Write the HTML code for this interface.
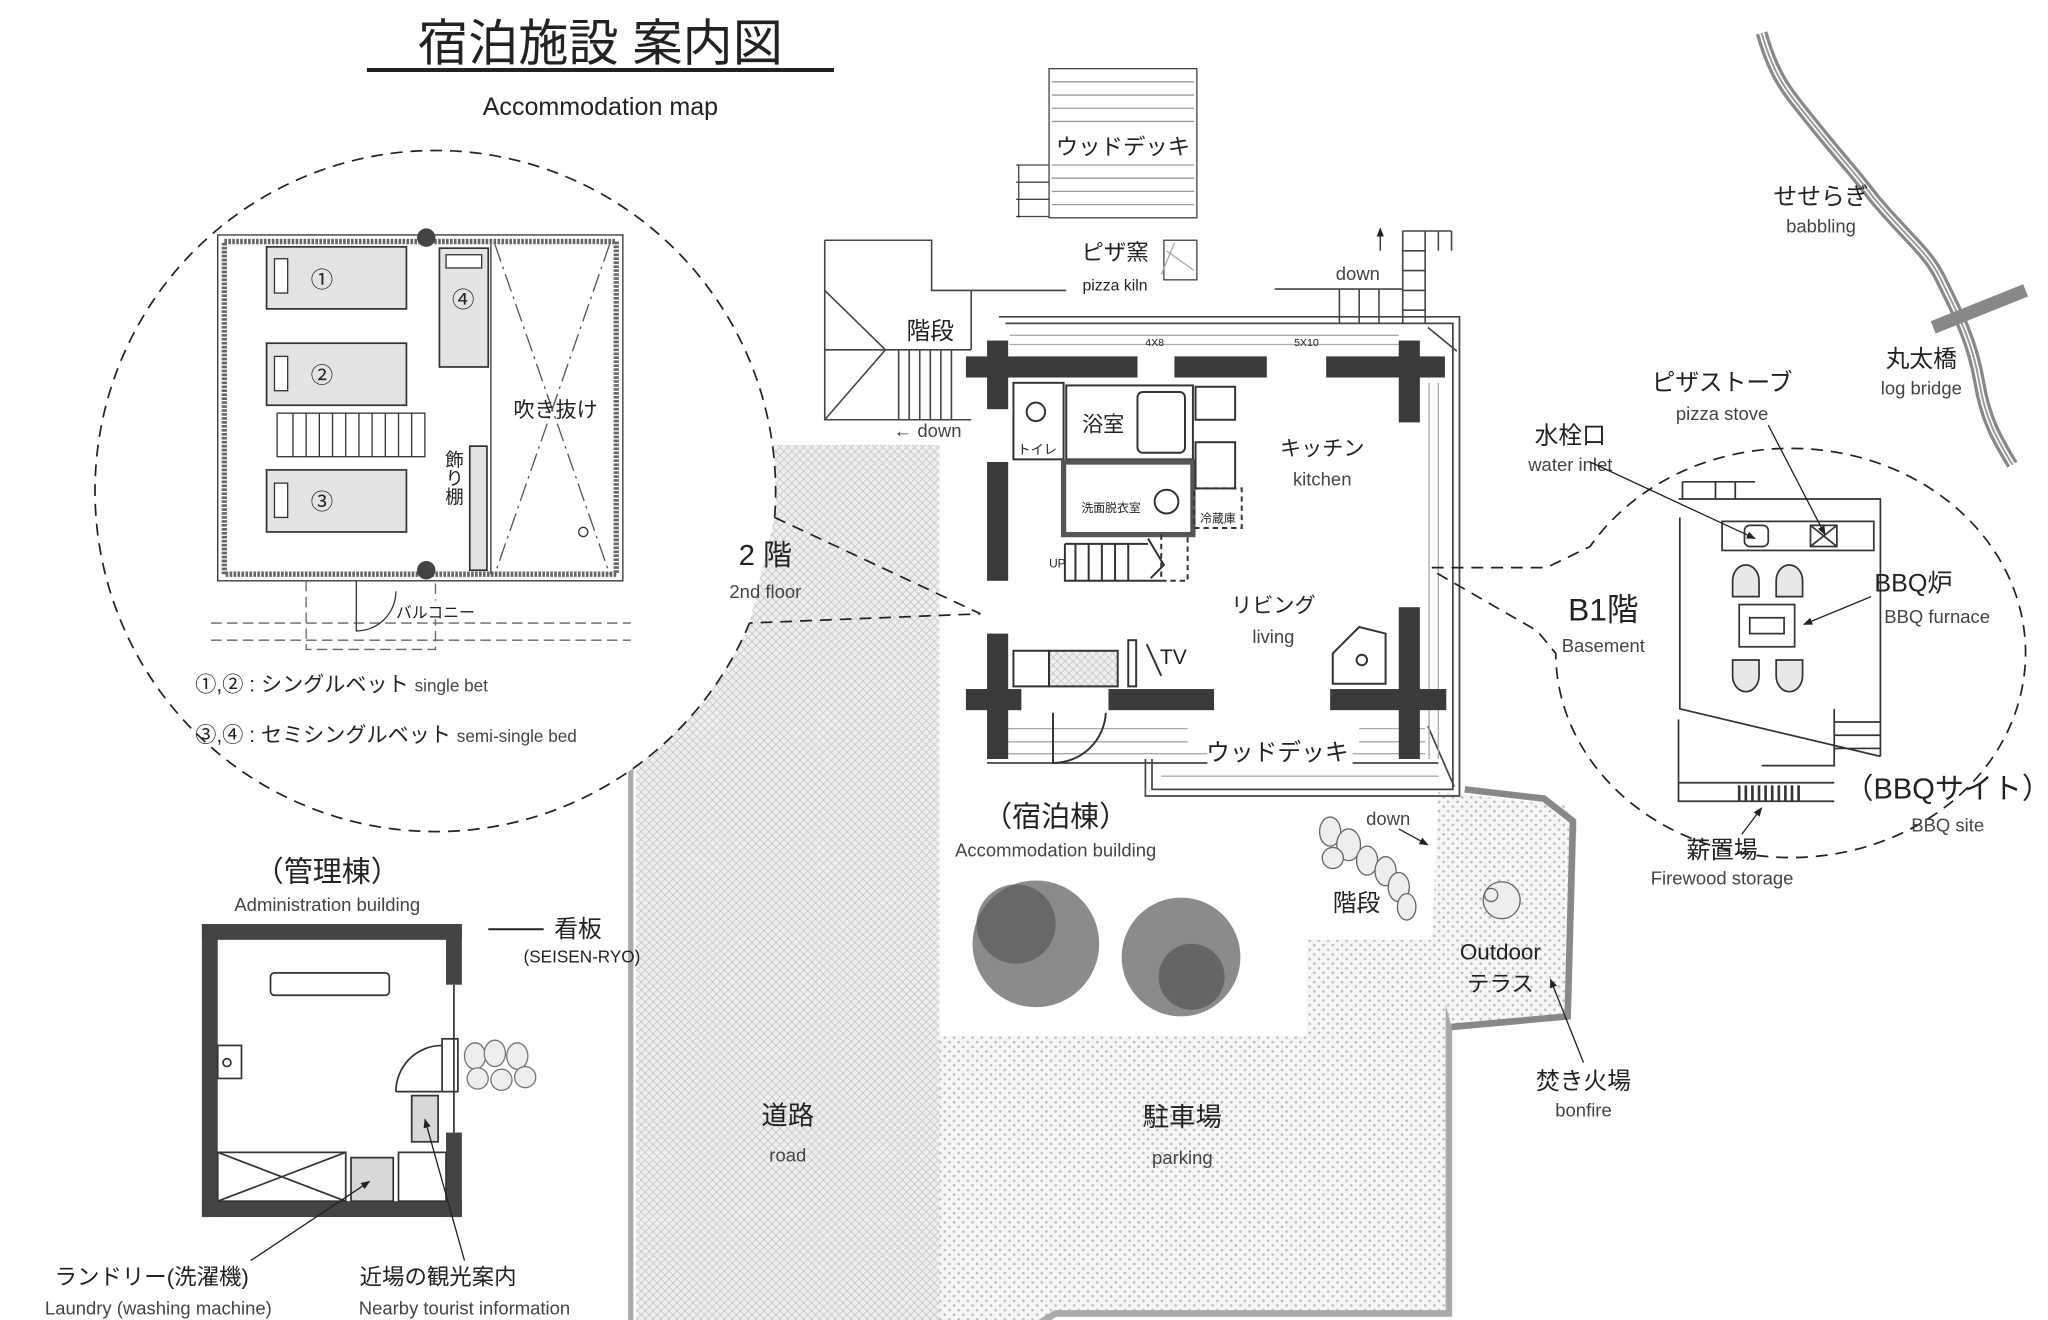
<!DOCTYPE html>
<html><head><meta charset="utf-8"><style>
html,body{margin:0;padding:0;background:#fff;}
svg{display:block;}
text{font-family:"Liberation Sans","Noto Sans CJK JP",sans-serif;fill:#222;}
.j{font-size:20px;}
.e{font-size:14px;fill:#444;}
</style></head><body>
<svg width="2048" height="1320" viewBox="0 0 1552 1000" preserveAspectRatio="none" xmlns="http://www.w3.org/2000/svg">
<defs>
<pattern id="hatch" width="6" height="6" patternUnits="userSpaceOnUse">
<rect width="6" height="6" fill="#f1f1f1"/><path d="M0 0L6 6M6 0L0 6" stroke="#c8c8c8" stroke-width="0.7"/></pattern>
<pattern id="dots" width="7" height="7" patternUnits="userSpaceOnUse">
<rect width="7" height="7" fill="#f6f6f6"/><circle cx="2" cy="2" r="1" fill="#bbb"/><circle cx="5.5" cy="5.5" r="1" fill="#bbb"/></pattern>
<marker id="ar" viewBox="0 0 10 10" refX="9" refY="5" markerWidth="7" markerHeight="7" orient="auto"><path d="M0 1L10 5L0 9z" fill="#222"/></marker>
</defs>

<!-- title -->
<text x="455" y="46" text-anchor="middle" style="font-size:38px">宿泊施設 案内図</text>
<line x1="278" y1="53" x2="632" y2="53" stroke="#222" stroke-width="3"/>
<text x="455" y="87" text-anchor="middle" style="font-size:19px">Accommodation map</text>

<!-- road -->
<polygon points="558,337 712,337 712,1010 482,1010 482,580 558,470" fill="url(#hatch)"/>
<line x1="478" y1="575" x2="478" y2="1010" stroke="#aaa" stroke-width="4"/>
<text x="597" y="852" text-anchor="middle" class="j">道路</text>
<text x="597" y="880" text-anchor="middle" class="e">road</text>

<!-- parking -->
<polygon points="712,785 990,785 990,712 1098,712 1098,995 800,995 775,1010 712,1010" fill="url(#dots)"/>
<polyline points="1098,712 1098,995 800,995 775,1010" fill="none" stroke="#aaa" stroke-width="5"/>
<circle cx="785" cy="715" r="48" fill="#777" opacity="0.85"/>
<circle cx="770" cy="700" r="30" fill="#5a5a5a" opacity="0.7"/>
<circle cx="895" cy="725" r="45" fill="#777" opacity="0.85"/>
<circle cx="903" cy="740" r="25" fill="#555" opacity="0.7"/>
<text x="896" y="853" text-anchor="middle" class="j">駐車場</text>
<text x="896" y="882" text-anchor="middle" class="e">parking</text>

<!-- terrace -->
<polygon points="1090,600 1185,610 1195,625 1190,770 1100,778 1085,720" fill="url(#dots)"/>
<path d="M1110,598 L1170,605 L1192,622 L1188,770 L1100,778" fill="none" stroke="#888" stroke-width="5"/>
<g fill="#eee" stroke="#666" stroke-width="1">
<circle cx="1138" cy="682" r="14"/><circle cx="1130" cy="678" r="5"/>
<ellipse cx="1008" cy="630" rx="8" ry="11"/><ellipse cx="1022" cy="640" rx="9" ry="12"/><ellipse cx="1010" cy="650" rx="8" ry="8"/>
<ellipse cx="1036" cy="652" rx="8" ry="11"/><ellipse cx="1050" cy="660" rx="8" ry="11"/><ellipse cx="1060" cy="672" rx="8" ry="11"/><ellipse cx="1066" cy="687" rx="7" ry="10"/></g>
<text x="1052" y="625" text-anchor="middle" class="e">down</text>
<line x1="1060" y1="628" x2="1082" y2="640" stroke="#222" marker-end="url(#ar)"/>
<text x="1028" y="690" text-anchor="middle" style="font-size:18px">階段</text>
<text x="1137" y="727" text-anchor="middle" style="font-size:17px">Outdoor</text>
<text x="1137" y="751" text-anchor="middle" style="font-size:17px">テラス</text>
<line x1="1200" y1="805" x2="1175" y2="742" stroke="#222" marker-end="url(#ar)"/>
<text x="1200" y="825" text-anchor="middle" style="font-size:18px">焚き火場</text>
<text x="1200" y="846" text-anchor="middle" class="e">bonfire</text>

<!-- top deck -->
<rect x="795" y="52" width="112" height="113" fill="#fff" stroke="#444"/>
<g stroke="#999" stroke-width="1">
<line x1="797" y1="62" x2="905" y2="62"/><line x1="797" y1="72" x2="905" y2="72"/><line x1="797" y1="82" x2="905" y2="82"/><line x1="797" y1="92" x2="905" y2="92"/>
<line x1="797" y1="125" x2="905" y2="125"/><line x1="797" y1="135" x2="905" y2="135"/><line x1="797" y1="145" x2="905" y2="145"/><line x1="797" y1="155" x2="905" y2="155"/></g>
<rect x="805" y="97" width="92" height="24" fill="#fff"/>
<text x="851" y="117" text-anchor="middle" style="font-size:17px">ウッドデッキ</text>
<g stroke="#444" fill="none"><path d="M770,125 H795 M770,138 H795 M770,151 H795 M770,164 H795 M772,125 V165"/></g>
<text x="845" y="197" text-anchor="middle" style="font-size:17px">ピザ窯</text>
<text x="845" y="220" text-anchor="middle" style="font-size:12px">pizza kiln</text>
<rect x="882" y="182" width="25" height="30" fill="#fff" stroke="#444"/>
<path d="M884,190 L905,205 M890,184 L880,208" stroke="#aaa"/>

<!-- left staircase -->
<g stroke="#444" fill="none" stroke-width="1.2">
<path d="M625,182 H706 V220 H808"/>
<path d="M625,182 V318 H736"/>
<path d="M625,220 L671,265 L625,318 M625,265 H736 M736,220 V265"/>
<path d="M681,265 V318 M689,265 V318 M697,265 V318 M705,265 V318 M713,265 V318 M721,265 V318"/></g>
<text x="705" y="257" text-anchor="middle" style="font-size:18px">階段</text>
<text x="703" y="331" text-anchor="middle" class="e">← down</text>

<!-- right down stairs -->
<g stroke="#444" fill="none" stroke-width="1.2">
<path d="M966,219 H1063 M1063,175 H1100 M1063,175 V245 M1080,175 V245 M1063,190 H1080 M1063,205 H1080 M1063,220 H1080 M1063,235 H1080 M1090,175 V190 M1100,175 V190 M1045,219 V245 M1030,219 V245 M1015,219 V245"/></g>
<line x1="1046" y1="190" x2="1046" y2="173" stroke="#222" marker-end="url(#ar)"/>
<text x="1029" y="212" text-anchor="middle" class="e">down</text>

<!-- accommodation building -->
<g fill="none" stroke="#444" stroke-width="1.3">
<path d="M757,240 H1106 V603 H868 V575"/>
<path d="M762,245 H1101 V598 H873 V575"/>
<path d="M748,578 H1090"/>
<path d="M1082,248 L1104,266 M1082,550 L1102,596"/></g>
<g stroke="#aaa"><line x1="765" y1="254" x2="1060" y2="254"/><line x1="765" y1="261" x2="1060" y2="261"/>
<line x1="1083" y1="290" x2="1083" y2="575"/><line x1="1090" y1="290" x2="1090" y2="575"/>
<line x1="750" y1="552" x2="900" y2="552"/><line x1="750" y1="562" x2="900" y2="562"/><line x1="1030" y1="552" x2="1080" y2="552"/><line x1="1030" y1="562" x2="1080" y2="562"/><line x1="750" y1="571" x2="1080" y2="571"/><line x1="880" y1="588" x2="1090" y2="588"/></g>
<g fill="#3a3a3a">
<rect x="732" y="270" width="130" height="16"/><rect x="890" y="270" width="70" height="16"/><rect x="1005" y="270" width="90" height="16"/>
<rect x="748" y="258" width="16" height="52"/><rect x="748" y="350" width="16" height="90"/><rect x="748" y="480" width="16" height="95"/>
<rect x="1060" y="258" width="16" height="62"/><rect x="1060" y="460" width="16" height="115"/>
<rect x="732" y="522" width="42" height="16"/><rect x="840" y="522" width="80" height="16"/><rect x="1008" y="522" width="88" height="16"/></g>
<g fill="none" stroke="#333" stroke-width="1.5">
<rect x="768" y="290" width="38" height="58"/><circle cx="785" cy="312" r="7"/>
<rect x="808" y="292" width="96" height="56"/><rect x="862" y="297" width="36" height="46" rx="4"/>
<rect x="806" y="350" width="98" height="55" stroke-width="4" stroke="#555"/>
<circle cx="884" cy="380" r="9"/>
<rect x="906" y="293" width="30" height="25"/><rect x="906" y="335" width="30" height="35"/>
<rect x="905" y="370" width="36" height="30" stroke-dasharray="4 3"/>
<path d="M807,412 H870 M807,412 V440 H880 M815,412 V440 M825,412 V440 M835,412 V440 M845,412 V440 M855,412 V440 M870,408 L882,428 L872,438"/>
<path d="M880,405 V440 M880,440 H900 V405" stroke-dasharray="4 3"/>
<rect x="768" y="493" width="27" height="27"/>
<rect x="795" y="493" width="52" height="27" fill="url(#hatch)"/>
<rect x="855" y="485" width="6" height="35"/><line x1="869" y1="488" x2="880" y2="512"/>
<path d="M1010,495 L1030,475 L1050,480 L1050,518 L1010,518 Z"/><circle cx="1032" cy="500" r="4"/>
<path d="M798,540 V578 A40,40 0 0 0 838,540"/></g>
<text x="836" y="327" text-anchor="middle" style="font-size:16px">浴室</text>
<text x="786" y="344" text-anchor="middle" style="font-size:10px">トイレ</text>
<text x="842" y="388" text-anchor="middle" style="font-size:9px">洗面脱衣室</text>
<text x="923" y="396" text-anchor="middle" style="font-size:9px">冷蔵庫</text>
<text x="795" y="430" style="font-size:9px">UP</text>
<text x="1002" y="345" text-anchor="middle" style="font-size:16px">キッチン</text>
<text x="1002" y="368" text-anchor="middle" class="e">kitchen</text>
<text x="965" y="464" text-anchor="middle" style="font-size:16px">リビング</text>
<text x="965" y="487" text-anchor="middle" class="e">living</text>
<text x="879" y="503" style="font-size:16px">TV</text>
<text x="875" y="262" text-anchor="middle" style="font-size:8px">4X8</text>
<text x="990" y="262" text-anchor="middle" style="font-size:8px">5X10</text>
<rect x="915" y="558" width="110" height="22" fill="#fff"/>
<text x="968" y="576" text-anchor="middle" style="font-size:18px">ウッドデッキ</text>
<text x="800" y="626" text-anchor="middle" style="font-size:22px">（宿泊棟）</text>
<text x="800" y="649" text-anchor="middle" class="e">Accommodation building</text>

<!-- 2F callout -->
<path d="M587,392 A258,258 0 0 0 330,114 A258,258 0 0 0 72,372 A258,258 0 0 0 330,630 A258,258 0 0 0 568,472" fill="#fff" stroke="#222" stroke-width="1.3" stroke-dasharray="9 6"/>
<path d="M587,392 L743,465 L568,472" fill="none" stroke="#222" stroke-width="1.3" stroke-dasharray="9 6"/>
<text x="580" y="428" text-anchor="middle" style="font-size:22px">2 階</text>
<text x="580" y="453" text-anchor="middle" class="e">2nd floor</text>
<g fill="none" stroke="#333">
<rect x="165" y="178" width="307" height="262" stroke-width="1"/>
<rect x="170" y="183" width="297" height="252" stroke="#666" stroke-width="4" stroke-dasharray="2 1"/>
<g fill="#e4e4e4" stroke-width="1.3">
<rect x="202" y="187" width="106" height="47"/><rect x="202" y="260" width="106" height="47"/><rect x="202" y="356" width="106" height="47"/>
<rect x="333" y="188" width="37" height="90"/><rect x="356" y="338" width="13" height="94"/></g>
<rect x="208" y="196" width="10" height="26" fill="#fff"/><rect x="208" y="270" width="10" height="26" fill="#fff"/><rect x="208" y="366" width="10" height="26" fill="#fff"/>
<rect x="338" y="193" width="27" height="10" fill="#fff"/>
<rect x="210" y="313" width="112" height="33"/>
<path d="M222,313 V346 M232,313 V346 M242,313 V346 M252,313 V346 M262,313 V346 M272,313 V346 M282,313 V346 M292,313 V346 M302,313 V346 M312,313 V346"/>
<line x1="372" y1="185" x2="372" y2="435"/>
<path d="M375,185 L462,435 M462,185 L375,435" stroke-dasharray="14 4 2 4" stroke="#555"/>
<circle cx="442" cy="403" r="3.5"/>
<path d="M232,440 V492 H330 V440 M160,472 H478 M160,485 H478" stroke="#666" stroke-dasharray="8 4"/>
<path d="M270,440 V478 A30,30 0 0 0 300,448" /></g>
<circle cx="323" cy="180" r="7" fill="#444"/><circle cx="323" cy="432" r="7" fill="#444"/>
<g font-size="17" text-anchor="middle"><text x="244" y="218">①</text><text x="244" y="290">②</text><text x="244" y="386">③</text><text x="351" y="233">④</text></g>
<text x="421" y="316" text-anchor="middle" style="font-size:16px">吹き抜け</text>
<text x="344" y="362" text-anchor="middle" style="font-size:14px;writing-mode:vertical-rl">飾り棚</text>
<rect x="300" y="455" width="60" height="14" fill="#fff"/>
<text x="330" y="468" text-anchor="middle" style="font-size:12px">バルコニー</text>
<text x="148" y="524" style="font-size:16px">①,② : シングルベット <tspan style="font-size:13px" fill="#444">  single bet</tspan></text>
<text x="148" y="562" style="font-size:16px">③,④ : セミシングルベット <tspan style="font-size:13px" fill="#444">  semi-single bed</tspan></text>

<!-- admin building -->
<text x="248" y="668" text-anchor="middle" style="font-size:22px">（管理棟）</text>
<text x="248" y="690" text-anchor="middle" class="e">Administration building</text>
<g fill="#444">
<rect x="153" y="700" width="197" height="12"/><rect x="153" y="700" width="12" height="222"/><rect x="153" y="910" width="197" height="12"/>
<rect x="338" y="700" width="12" height="46"/><rect x="338" y="858" width="12" height="64"/></g>
<g fill="none" stroke="#333" stroke-width="1.3">
<line x1="344" y1="746" x2="344" y2="858"/>
<rect x="335" y="787" width="12" height="40"/>
<path d="M300,827 A35,35 0 0 1 335,792 M300,827 H335"/>
<rect x="205" y="737" width="90" height="17" rx="3"/>
<rect x="165" y="792" width="18" height="25"/><circle cx="172" cy="805" r="3"/>
<rect x="165" y="873" width="97" height="37"/><path d="M165,873 L262,910 M262,873 L165,910"/>
<rect x="266" y="877" width="32" height="33" fill="#d8d8d8"/>
<rect x="302" y="873" width="36" height="37"/>
<rect x="312" y="830" width="20" height="35" fill="#d8d8d8"/></g>
<g fill="#eee" stroke="#777"><ellipse cx="360" cy="800" rx="8" ry="10"/><ellipse cx="375" cy="798" rx="8" ry="10"/><ellipse cx="392" cy="800" rx="8" ry="10"/><ellipse cx="362" cy="817" rx="8" ry="8"/><ellipse cx="380" cy="818" rx="8" ry="8"/><ellipse cx="398" cy="816" rx="8" ry="8"/></g>
<line x1="370" y1="704" x2="412" y2="704" stroke="#222" stroke-width="1.5"/>
<text x="420" y="710" style="font-size:18px">看板</text>
<text x="441" y="729" text-anchor="middle" style="font-size:13px">(SEISEN-RYO)</text>
<line x1="190" y1="955" x2="280" y2="895" stroke="#222" marker-end="url(#ar)"/>
<line x1="352" y1="955" x2="322" y2="848" stroke="#222" marker-end="url(#ar)"/>
<text x="115" y="973" text-anchor="middle" style="font-size:17px">ランドリー(洗濯機)</text>
<text x="120" y="996" text-anchor="middle" class="e">Laundry (washing machine)</text>
<text x="332" y="973" text-anchor="middle" style="font-size:17px">近場の観光案内</text>
<text x="352" y="996" text-anchor="middle" class="e">Nearby tourist information</text>

<!-- river -->
<path id="rv" d="M1335,25 C1345,60 1355,70 1375,95 C1395,120 1405,130 1420,150 C1445,180 1460,190 1470,210 C1485,240 1495,260 1500,290 C1505,320 1515,335 1525,352" fill="none" stroke="#888" stroke-width="9"/>
<path d="M1335,25 C1345,60 1355,70 1375,95 C1395,120 1405,130 1420,150 C1445,180 1460,190 1470,210 C1485,240 1495,260 1500,290 C1505,320 1515,335 1525,352" fill="none" stroke="#fff" stroke-width="4"/>
<path d="M1335,25 C1345,60 1355,70 1375,95 C1395,120 1405,130 1420,150 C1445,180 1460,190 1470,210 C1485,240 1495,260 1500,290 C1505,320 1515,335 1525,352" fill="none" stroke="#999" stroke-width="1.5"/>
<line x1="1465" y1="248" x2="1535" y2="220" stroke="#888" stroke-width="10"/>
<text x="1380" y="155" text-anchor="middle" style="font-size:18px">せせらぎ</text>
<text x="1380" y="176" text-anchor="middle" class="e">babbling</text>
<text x="1456" y="278" text-anchor="middle" style="font-size:18px">丸太橋</text>
<text x="1456" y="299" text-anchor="middle" class="e">log bridge</text>

<!-- BBQ callout -->
<path d="M1085,430 H1172 L1205,414 A178,155 0 1 1 1179,495 L1165,478 L1085,432" fill="none" stroke="#222" stroke-width="1.3" stroke-dasharray="9 6"/>
<text x="1215" y="470" text-anchor="middle" style="font-size:24px">B1階</text>
<text x="1215" y="494" text-anchor="middle" class="e">Basement</text>
<g fill="none" stroke="#333" stroke-width="1.3">
<path d="M1272,378 H1425 V573 M1273,392 V537 L1425,573 M1272,545 V607 H1390 M1272,593 H1390 M1335,580 H1390 V537 M1390,547 H1425 M1390,557 H1425 M1390,567 H1425"/>
<path d="M1275,365 H1330 M1275,365 V378 M1300,365 V378 M1315,365 V378"/>
<rect x="1305" y="395" width="115" height="22"/>
<rect x="1322" y="398" width="18" height="16" rx="4"/><rect x="1372" y="398" width="20" height="16"/>
<path d="M1372,398 L1392,414 M1392,398 L1372,414"/>
<rect x="1318" y="458" width="42" height="32"/><rect x="1326" y="468" width="26" height="12"/>
<g fill="#e8e8e8"><path d="M1313,452 V440 A10,12 0 0 1 1333,440 V452 Z"/><path d="M1346,452 V440 A10,12 0 0 1 1366,440 V452 Z"/>
<path d="M1313,500 V512 A10,12 0 0 0 1333,512 V500 Z"/><path d="M1346,500 V512 A10,12 0 0 0 1366,512 V500 Z"/></g>
<path d="M1318,595 V607 M1323,595 V607 M1328,595 V607 M1333,595 V607 M1338,595 V607 M1343,595 V607 M1348,595 V607 M1353,595 V607 M1358,595 V607 M1363,595 V607" stroke-width="2"/></g>
<text x="1190" y="336" text-anchor="middle" style="font-size:18px">水栓口</text>
<text x="1190" y="357" text-anchor="middle" class="e">water inlet</text>
<line x1="1205" y1="350" x2="1330" y2="408" stroke="#222" marker-end="url(#ar)"/>
<text x="1305" y="296" text-anchor="middle" style="font-size:18px">ピザストーブ</text>
<text x="1305" y="318" text-anchor="middle" class="e">pizza stove</text>
<line x1="1340" y1="322" x2="1383" y2="405" stroke="#222" marker-end="url(#ar)"/>
<text x="1450" y="448" text-anchor="middle" style="font-size:19px">BBQ炉</text>
<text x="1468" y="472" text-anchor="middle" class="e">BBQ furnace</text>
<line x1="1418" y1="452" x2="1367" y2="473" stroke="#222" marker-end="url(#ar)"/>
<text x="1476" y="605" text-anchor="middle" style="font-size:22px">（BBQサイト）</text>
<text x="1476" y="630" text-anchor="middle" class="e">BBQ site</text>
<line x1="1320" y1="632" x2="1335" y2="612" stroke="#222" marker-end="url(#ar)"/>
<text x="1305" y="650" text-anchor="middle" style="font-size:18px">薪置場</text>
<text x="1305" y="670" text-anchor="middle" class="e">Firewood storage</text>
</svg>
</body></html>
